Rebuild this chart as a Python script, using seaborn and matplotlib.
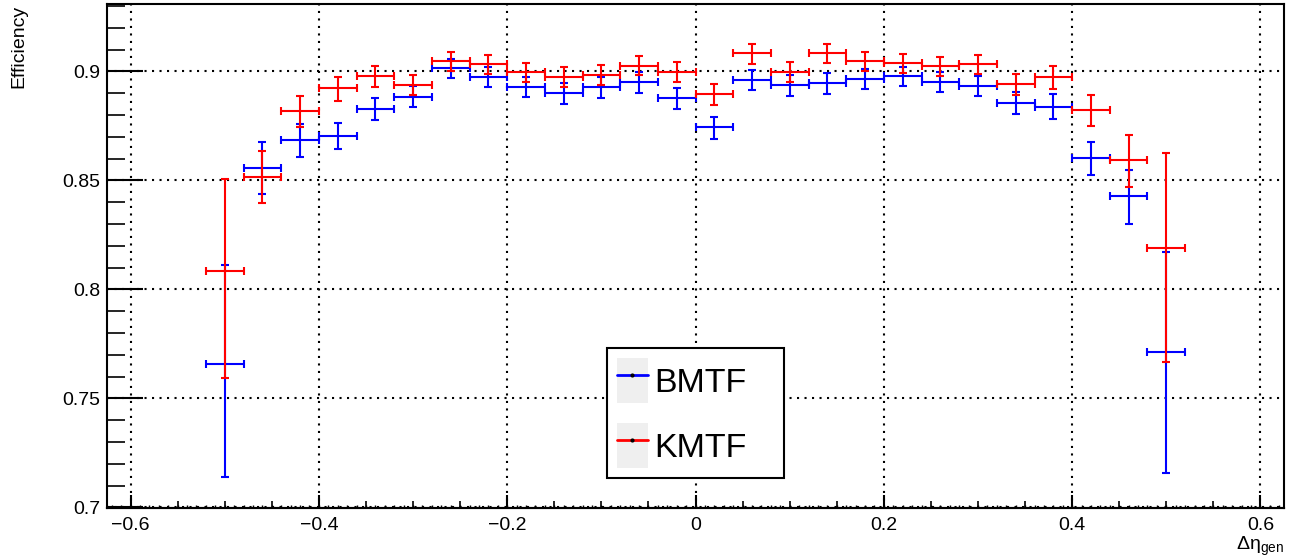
import matplotlib
matplotlib.use("Agg")
import matplotlib.pyplot as plt
import seaborn as sns
import numpy as np
from matplotlib.lines import Line2D
from matplotlib.patches import Patch
from matplotlib.legend_handler import HandlerTuple
from matplotlib.ticker import MultipleLocator, FuncFormatter

# ---------------- data ----------------
eta_centers = [-0.50, -0.46, -0.42, -0.38, -0.34, -0.30, -0.26, -0.22, -0.18,
               -0.14, -0.10, -0.06, -0.02, 0.02, 0.06, 0.10, 0.14, 0.18,
               0.22, 0.26, 0.30, 0.34, 0.38, 0.42, 0.46, 0.50]
bin_half_width = 0.02

bmtf_eff = [0.7660, 0.8558, 0.8685, 0.8703, 0.8828, 0.8884, 0.9015, 0.8975, 0.8929,
            0.8899, 0.8928, 0.8950, 0.8876, 0.8743, 0.8960, 0.8936, 0.8945, 0.8965,
            0.8977, 0.8952, 0.8934, 0.8856, 0.8838, 0.8602, 0.8428, 0.7712]
bmtf_err_up = [0.0450, 0.0118, 0.0073, 0.0058, 0.0050, 0.0048, 0.0044, 0.0044, 0.0045,
               0.0047, 0.0046, 0.0046, 0.0047, 0.0050, 0.0046, 0.0047, 0.0047, 0.0046,
               0.0043, 0.0044, 0.0047, 0.0050, 0.0057, 0.0075, 0.0119, 0.0460]
bmtf_err_down = [0.0520, 0.0120, 0.0077, 0.0061, 0.0051, 0.0048, 0.0045, 0.0045, 0.0047,
                 0.0048, 0.0048, 0.0049, 0.0049, 0.0052, 0.0047, 0.0049, 0.0048, 0.0048,
                 0.0046, 0.0047, 0.0048, 0.0051, 0.0058, 0.0077, 0.0127, 0.0556]

kmtf_eff = [0.8085, 0.8517, 0.8818, 0.8922, 0.8978, 0.8937, 0.9046, 0.9033, 0.8997,
            0.8974, 0.8984, 0.9026, 0.8998, 0.8894, 0.9083, 0.8997, 0.9083, 0.9047,
            0.9038, 0.9024, 0.9033, 0.8942, 0.8974, 0.8822, 0.8593, 0.8191]
kmtf_err_up = [0.0420, 0.0118, 0.0069, 0.0052, 0.0046, 0.0045, 0.0041, 0.0040, 0.0043,
               0.0044, 0.0045, 0.0043, 0.0043, 0.0048, 0.0042, 0.0044, 0.0042, 0.0043,
               0.0041, 0.0043, 0.0042, 0.0047, 0.0052, 0.0071, 0.0115, 0.0436]
kmtf_err_down = [0.0493, 0.0122, 0.0075, 0.0057, 0.0049, 0.0047, 0.0043, 0.0043, 0.0046,
                 0.0047, 0.0047, 0.0044, 0.0047, 0.0049, 0.0048, 0.0047, 0.0046, 0.0046,
                 0.0044, 0.0046, 0.0045, 0.0049, 0.0057, 0.0072, 0.0122, 0.0523]

series_labels = ["BMTF", "KMTF"]
series_colors = ["#0000ff", "#ff0000"]

# ---------------- style ----------------
sns.set_theme(style="ticks")
plt.rcParams["font.family"] = ["Liberation Sans", "DejaVu Sans"]
plt.rcParams["mathtext.fontset"] = "custom"
plt.rcParams["mathtext.rm"] = "Liberation Sans"
plt.rcParams["mathtext.it"] = "Liberation Sans:italic"
plt.rcParams["axes.unicode_minus"] = True
for key in ["text.color", "axes.labelcolor", "xtick.color", "ytick.color",
            "xtick.labelcolor", "ytick.labelcolor", "axes.edgecolor"]:
    plt.rcParams[key] = "black"

fig = plt.figure(figsize=(12.91, 5.60), dpi=100)
fig.patch.set_facecolor("white")
ax = fig.add_axes([0.0829, 0.09375, 0.9117, 0.8991])
ax.set_facecolor("white")

# ---------------- data marks ----------------
series = [
    (bmtf_eff, bmtf_err_down, bmtf_err_up),
    (kmtf_eff, kmtf_err_down, kmtf_err_up),
]
for i, (eff, edn, eup) in enumerate(series):
    ax.errorbar(eta_centers, eff, xerr=bin_half_width, yerr=[edn, eup],
                fmt="none", ecolor=series_colors[i], elinewidth=1.5,
                capsize=2.9, capthick=1.5, zorder=3 + i)

# ---------------- axes ----------------
ax.set_xlim(-0.625, 0.625)
ax.set_ylim(0.7, 0.9309)

ax.xaxis.set_major_locator(MultipleLocator(0.2))
ax.xaxis.set_minor_locator(MultipleLocator(0.05))
ax.yaxis.set_major_locator(MultipleLocator(0.05))
ax.yaxis.set_minor_locator(MultipleLocator(0.01))

def fmt(v, pos):
    s = "%g" % round(v, 4)
    if s == "-0":
        s = "0"
    return s.replace("-", "\u2212")

ax.xaxis.set_major_formatter(FuncFormatter(fmt))
ax.yaxis.set_major_formatter(FuncFormatter(fmt))

ax.tick_params(axis="x", which="major", direction="in", length=9.5, width=1.5,
               labelsize=14, pad=7, colors="black", top=False)
ax.tick_params(axis="x", which="minor", direction="in", length=5, width=1.2,
               top=False, colors="black")
ax.tick_params(axis="y", which="major", direction="in", length=26, width=1.5,
               labelsize=14, pad=5, colors="black", right=False)
ax.tick_params(axis="y", which="minor", direction="in", length=13, width=1.2,
               right=False, colors="black")

sec = ax.secondary_xaxis("bottom")
sec.xaxis.set_major_locator(MultipleLocator(0.01))
sec.tick_params(direction="in", length=2.5, width=1, labelbottom=False, colors="black")
sec.spines["bottom"].set_linewidth(1.5)
sec.spines["bottom"].set_color("black")

for sp in ax.spines.values():
    sp.set_linewidth(1.5)
    sp.set_color("black")
    sp.set_visible(True)

ax.grid(True, which="major", color="black", linestyle=(0, (1, 2.6)), linewidth=1.5)
ax.set_axisbelow(True)

ax.set_ylabel("Efficiency", fontsize=14, loc="top", color="black")
ax.yaxis.set_label_coords(-0.0677, 0.998)
ax.set_xlabel(r"Δη$_{\mathrm{gen}}$", fontsize=14, loc="right", color="black")
ax.xaxis.set_label_coords(1.0, -0.055)

# ---------------- legend ----------------
handles = []
for c in series_colors:
    handles.append((Patch(facecolor="#efefef", edgecolor="none"),
                    Line2D([], [], color=c, lw=2, marker="o", ms=2,
                           mfc="black", mec="black")))
leg = ax.legend(handles, series_labels,
                handler_map={tuple: HandlerTuple(ndivide=1, pad=0)},
                loc="lower left", bbox_to_anchor=(0.4248, 0.0582, 0.1505, 0.2583),
                mode="expand", borderaxespad=0, fontsize=24.5, frameon=True,
                fancybox=False, shadow=False, framealpha=1, edgecolor="black",
                handlelength=0.9, handleheight=1.657, handletextpad=0.2,
                labelspacing=0.59, borderpad=0.29)
leg.get_frame().set_linewidth(1.5)
for t in leg.get_texts():
    t.set_color("black")

fig.savefig("out.png", dpi=100, facecolor="white")
